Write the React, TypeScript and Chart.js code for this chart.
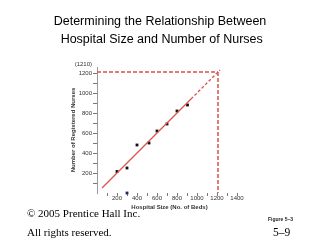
import React, { useEffect, useRef } from "react";
import { Chart, registerables } from "chart.js";

Chart.register(...registerables);

// Hospital size (beds) vs registered nurses
const bedCounts = [200, 300, 400, 520, 600, 700, 800, 905];
const nurseCounts = [215, 250, 480, 500, 620, 690, 820, 880];

// regression line (solid part, extrapolated dashed part)
const fitSolidX = [50, 940];
const fitSolidY = [50, 940];
const fitDashX = [940, 1230];
const fitDashY = [940, 1230];

// prediction guide at 1210 beds
const predictedBeds = 1210;
const predictedNurses = 1210;
const predictedLabel = "(1210)";

// small mark on x axis
const markX = [300];
const markY = [0];

const xTickLabels = [200, 400, 600, 800, 1000, 1200, 1400];
const yTickLabels = [200, 400, 600, 800, 1000, 1200];

const titleLines = ["Determining the Relationship Between", " Hospital Size and Number of Nurses"];
const xTitle = "Hospital Size (No. of Beds)";
const yTitle = "Number of Registered Nurses";

const RED = "#d9534a";

export default function App() {
  const ref = useRef<HTMLCanvasElement | null>(null);

  useEffect(() => {
    if (!ref.current) return;
    const labelPlugin = {
      id: "predLabel",
      afterDraw(chart: any) {
        const { ctx, scales } = chart;
        const y = scales.y.getPixelForValue(predictedNurses);
        ctx.save();
        ctx.font = "6px 'Liberation Sans', Arial, sans-serif";
        ctx.fillStyle = "#333";
        ctx.textAlign = "right";
        ctx.textBaseline = "middle";
        ctx.fillText(predictedLabel, scales.y.right - 5, y - 8);
        ctx.restore();
      },
    };
    const chart = new Chart(ref.current, {
      type: "scatter",
      data: {
        datasets: [
          {
            data: fitSolidX.map((x, i) => ({ x, y: fitSolidY[i] })),
            showLine: true,
            borderColor: RED,
            borderWidth: 1.3,
            pointRadius: 0,
          },
          {
            data: fitDashX.map((x, i) => ({ x, y: fitDashY[i] })),
            showLine: true,
            borderColor: RED,
            borderWidth: 1.3,
            borderDash: [3, 2],
            pointRadius: 0,
          },
          {
            data: [
              { x: 0, y: predictedNurses },
              { x: predictedBeds, y: predictedNurses },
            ],
            showLine: true,
            borderColor: RED,
            borderWidth: 1.5,
            borderDash: [4, 2],
            pointRadius: 0,
          },
          {
            data: [
              { x: predictedBeds, y: predictedNurses },
              { x: predictedBeds, y: 0 },
            ],
            showLine: true,
            borderColor: RED,
            borderWidth: 1.5,
            borderDash: [4, 2],
            pointRadius: 0,
          },
          {
            data: bedCounts.map((x, i) => ({ x, y: nurseCounts[i] })),
            pointStyle: "rect",
            pointRadius: 2,
            backgroundColor: "#111",
            borderColor: "#111",
            borderWidth: 0,
          },
          {
            data: markX.map((x, i) => ({ x, y: markY[i] })),
            pointStyle: "rect",
            pointRadius: 2,
            backgroundColor: "#1a2a6c",
            borderColor: "#1a2a6c",
            borderWidth: 0,
            clip: false,
          } as any,
        ],
      },
      options: {
        animation: false,
        responsive: false,
        layout: { padding: { left: 65, right: 78, top: 67, bottom: 27 } },
        plugins: { legend: { display: false }, tooltip: { enabled: false } },
        scales: {
          x: {
            type: "linear",
            min: 0,
            max: 1450,
            afterFit: (s: any) => {
              s.height = 20;
            },
            afterBuildTicks: (s: any) => {
              const t = [];
              for (let v = 100; v <= 1400; v += 100) t.push({ value: v });
              s.ticks = t;
            },
            border: { display: false },
            grid: { drawOnChartArea: false, tickLength: 3, color: "#777" },
            ticks: {
              autoSkip: false,
              maxRotation: 0,
              padding: -1,
              color: "#333",
              font: { family: "'Liberation Sans', Arial, sans-serif", size: 6 },
              callback: (v: any) => (xTickLabels.includes(Number(v)) ? String(v) : ""),
            },
            title: {
              display: true,
              text: xTitle,
              color: "#333",
              font: { family: "'Liberation Sans', Arial, sans-serif", size: 6, weight: "bold" },
              padding: { top: 0, bottom: 2.4 },
            },
          },
          y: {
            type: "linear",
            min: 0,
            max: 1260,
            afterFit: (s: any) => {
              s.width = 32;
            },
            afterBuildTicks: (s: any) => {
              const t = [];
              for (let v = 100; v <= 1200; v += 100) t.push({ value: v });
              s.ticks = t;
            },
            border: { display: true, color: "#999" },
            grid: { drawOnChartArea: false, tickLength: 4, color: "#777" },
            ticks: {
              autoSkip: false,
              padding: 1,
              color: "#333",
              font: { family: "'Liberation Sans', Arial, sans-serif", size: 6 },
              callback: (v: any) => (yTickLabels.includes(Number(v)) ? String(v) : ""),
            },
            title: {
              display: true,
              text: yTitle,
              color: "#333",
              font: { family: "'Liberation Sans', Arial, sans-serif", size: 6, weight: "bold" },
              padding: { top: 4.4, bottom: 0 },
            },
          },
        },
      } as any,
      plugins: [labelPlugin],
    });
    return () => chart.destroy();
  }, []);

  const sans = "'Liberation Sans', Arial, sans-serif";
  const serif = "'Liberation Serif', 'Times New Roman', serif";

  return (
    <div style={{ position: "absolute", left: 0, top: 0, width: 320, height: 240, background: "#fff", overflow: "hidden" }}>
      <canvas ref={ref} width={320} height={240} style={{ position: "absolute", left: 0, top: 0, width: 320, height: 240 }} />
      <div style={{ position: "absolute", left: 0, top: 12, width: 320, textAlign: "center", fontFamily: sans, fontSize: 12.5, lineHeight: "18px", color: "#000", whiteSpace: "pre" }}>
        {titleLines[0]}
        {"\n"}
        {titleLines[1]}
      </div>
      <div style={{ position: "absolute", left: 27, top: 204, fontFamily: serif, fontSize: 11, lineHeight: "19px", color: "#000", whiteSpace: "pre" }}>
        {"© 2005 Prentice Hall Inc.\nAll rights reserved."}
      </div>
      <div style={{ position: "absolute", left: 268, top: 216, fontFamily: sans, fontSize: 5, fontWeight: "bold", color: "#222" }}>Figure 5–3</div>
      <div style={{ position: "absolute", left: 273, top: 225, fontFamily: serif, fontSize: 11.5, lineHeight: "14px", color: "#000" }}>5–9</div>
    </div>
  );
}
